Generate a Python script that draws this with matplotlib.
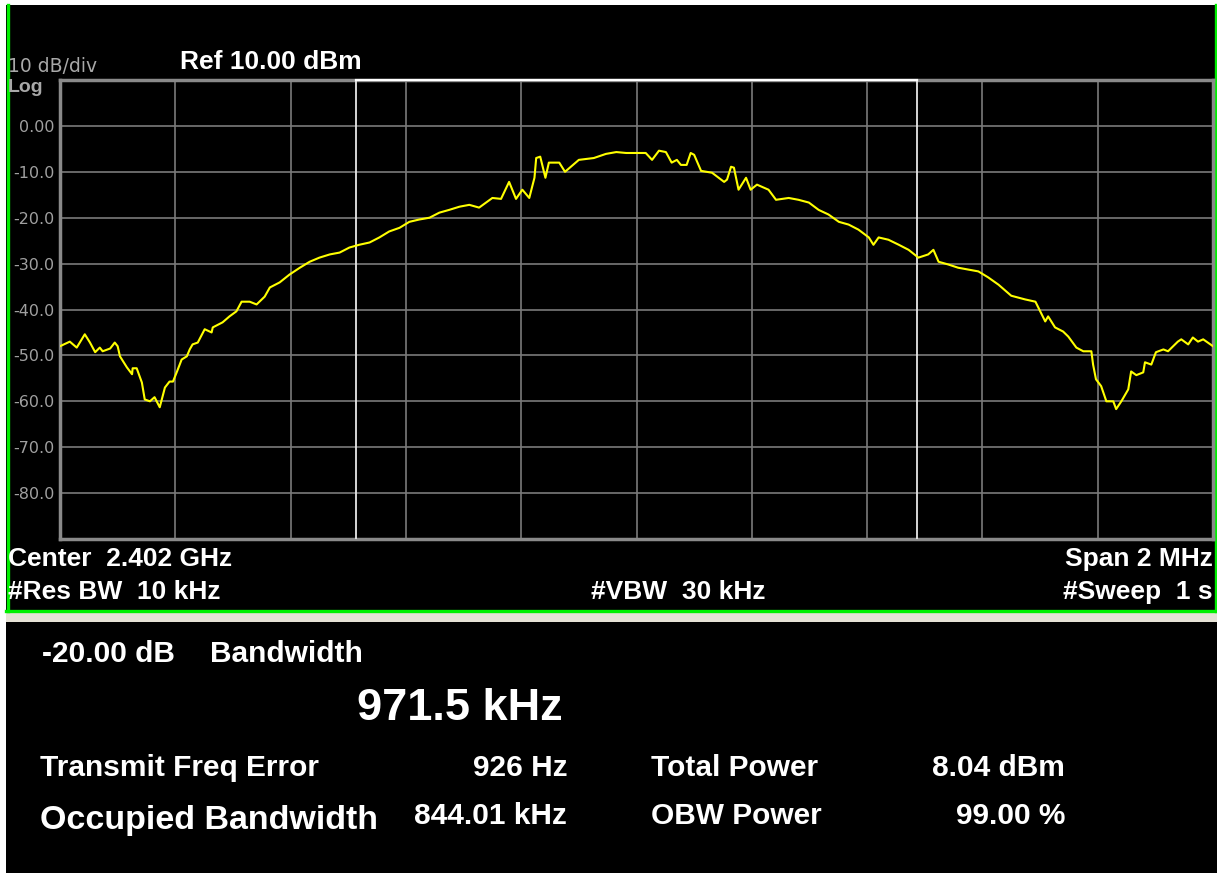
import numpy as np
import matplotlib.pyplot as plt
from matplotlib.patches import Rectangle
from matplotlib.lines import Line2D

plt.rcParams['font.family'] = ['Liberation Sans', 'DejaVu Sans']

# sweep: offset from center (kHz) and level (dBm)
freq_khz = [-1000, -983, -971, -957, -948, -939, -931, -926, -913, -905, -900, -896,
            -884, -875, -874, -867, -858, -853, -844, -836, -827, -818, -810, -804,
            -797, -789, -780, -775, -770, -761, -749, -737, -735, -718, -706, -694,
            -685, -671, -659, -645, -636, -619, -602, -584, -567, -550, -532, -515,
            -498, -481, -463, -446, -429, -411, -394, -377, -359, -342, -325, -307,
            -290, -273, -250, -235, -221, -209, -198, -186, -177, -174, -167, -158,
            -152, -134, -124, -100, -74, -53, -35, -18, 16, 27, 39, 51,
            61, 70, 77, 87, 94, 100, 112, 131, 152, 157, 164, 169,
            177, 190, 198, 209, 229, 242, 264, 281, 299, 316, 333, 351,
            368, 385, 403, 411, 420, 437, 455, 472, 489, 506, 515, 524,
            541, 558, 576, 593, 610, 628, 650, 674, 692, 709, 714, 726,
            740, 749, 763, 775, 789, 792, 797, 806, 815, 827, 832, 841,
            853, 858, 867, 879, 882, 893, 901, 914, 922, 939, 945, 957,
            965, 974, 983, 991, 1000]
level_dbm = [-48.0, -47.0, -48.3, -45.4, -47.2, -49.3, -48.3, -49.1, -48.5, -47.2, -48.0, -50.2,
             -52.6, -54.1, -52.8, -52.8, -55.9, -59.6, -60.0, -59.1, -61.3, -57.0, -55.7, -55.7,
             -53.5, -50.9, -50.2, -48.7, -47.6, -47.2, -44.3, -45.0, -43.9, -42.8, -41.5, -40.4,
             -38.3, -38.3, -38.9, -37.2, -35.2, -34.1, -32.4, -30.9, -29.6, -28.7, -28.0, -27.6,
             -26.5, -25.9, -25.4, -24.3, -23.0, -22.2, -20.9, -20.4, -20.0, -18.9, -18.3, -17.6,
             -17.2, -17.8, -15.7, -15.9, -12.2, -15.9, -13.9, -15.7, -11.3, -7.0, -6.7, -11.3,
             -8.0, -8.0, -10.0, -7.4, -7.0, -6.1, -5.7, -5.9, -5.9, -7.4, -5.4, -5.7,
             -8.0, -7.4, -8.5, -8.5, -5.9, -6.3, -9.8, -10.2, -12.2, -11.7, -8.9, -9.1,
             -13.9, -11.3, -13.9, -12.8, -13.9, -16.1, -15.7, -16.1, -16.7, -18.3, -19.3, -20.9,
             -21.5, -22.6, -24.3, -25.9, -24.3, -24.8, -25.9, -27.0, -28.7, -28.0, -27.0, -29.6,
             -30.2, -30.9, -31.3, -31.7, -33.0, -34.6, -37.0, -37.8, -38.3, -42.6, -41.5, -43.9,
             -44.8, -45.9, -48.3, -49.1, -49.1, -52.0, -55.2, -56.7, -60.0, -60.0, -61.7, -60.0,
             -57.4, -53.5, -54.3, -53.7, -51.5, -52.0, -49.3, -48.7, -49.1, -47.0, -46.5, -47.6,
             -46.1, -47.0, -46.5, -47.2, -48.0]

ref_level = 10.0
db_per_div = 10
span_khz = 2000
bw_20db_khz = 971.5
ytick_vals = [0, -10, -20, -30, -40, -50, -60, -70, -80]
ytick_text = ['0.00', '-10.0', '-20.0', '-30.0', '-40.0', '-50.0', '-60.0', '-70.0', '-80.0']

W, H = 1217, 877
fig = plt.figure(figsize=(W / 100, H / 100), dpi=100, facecolor='white')


def fx(x):
    return x / W


def fy(y):
    return 1 - y / H


# instrument panels (behind the axes)
for y0, y1, col in [(5, 612, 'black'), (622, 873, 'black'), (613, 622, '#e6e2d6')]:
    fig.patches.append(Rectangle((fx(6), fy(y1)), fx(1211), (y1 - y0) / H,
                                 transform=fig.transFigure, facecolor=col,
                                 edgecolor='none', zorder=-3))
green = '#00f000'
for xs, ys in [([7.5, 7.5], [5, 611]), ([1215.5, 1215.5], [5, 611]), ([6, 1217], [610.5, 610.5])]:
    fig.lines.append(Line2D([fx(v) for v in xs], [fy(v) for v in ys], transform=fig.transFigure,
                            color=green, lw=2.4, zorder=-2))

ax = fig.add_axes([fx(60), fy(539), fx(1213 - 60), (539 - 80) / H])
ax.set_zorder(1)
ax.set_facecolor('black')
ax.set_xlim(-span_khz / 2, span_khz / 2)
ax.set_ylim(ref_level - 10 * db_per_div, ref_level)
ax.set_xticks(np.linspace(-span_khz / 2, span_khz / 2, 11))
ax.set_yticks(ytick_vals)
ax.set_yticklabels(ytick_text, family='DejaVu Sans')
ax.tick_params(axis='x', length=0, labelbottom=False)
ax.tick_params(axis='y', length=0, pad=4, labelsize=11.5, labelcolor='#a0a0a0')
ax.grid(True, color='#7a7a7a', lw=1.2)
for s in ax.spines.values():
    s.set_color('#8a8a8a')
    s.set_linewidth(2.5)

# -20 dB bandwidth markers
for m in (-bw_20db_khz / 2, bw_20db_khz / 2):
    ax.axvline(m, color='#e8e8e8', lw=1.3, zorder=3)
ax.plot([-bw_20db_khz / 2, bw_20db_khz / 2], [ref_level, ref_level], color='white', lw=1.6,
        clip_on=False, zorder=5)

ax.plot(freq_khz, level_dbm, color='#ffff00', lw=1.5, zorder=4)

gray = '#a8a8a8'
fig.text(fx(8), fy(66), '10 dB/div', color=gray, fontsize=13.5, family='DejaVu Sans', va='center')
fig.text(fx(8), fy(87), 'Log', color=gray, fontsize=14, fontweight='bold', va='center')
fig.text(fx(180), fy(62), 'Ref 10.00 dBm', color='white', fontsize=19, fontweight='bold', va='center')

big = dict(color='white', fontsize=19, fontweight='bold', va='center')
fig.text(fx(8), fy(559), 'Center  2.402 GHz', **big)
fig.text(fx(8), fy(592), '#Res BW  10 kHz', **big)
fig.text(fx(678), fy(592), '#VBW  30 kHz', ha='center', **big)
fig.text(fx(1213), fy(559), 'Span 2 MHz', ha='right', **big)
fig.text(fx(1213), fy(592), '#Sweep  1 s', ha='right', **big)

# measurement summary
res = dict(color='white', fontsize=21.5, fontweight='bold', va='center')
fig.text(fx(42), fy(654), '-20.00 dB', **res)
fig.text(fx(210), fy(654), 'Bandwidth', **res)
fig.text(fx(357), fy(708), '971.5 kHz', color='white', fontsize=32.5, fontweight='bold', va='center')
fig.text(fx(40), fy(768), 'Transmit Freq Error', **res)
fig.text(fx(568), fy(768), '926 Hz', ha='right', **res)
fig.text(fx(651), fy(768), 'Total Power', **res)
fig.text(fx(1065), fy(768), '8.04 dBm', ha='right', **res)
fig.text(fx(40), fy(821), 'Occupied Bandwidth', color='white', fontsize=24.5, fontweight='bold', va='center')
fig.text(fx(567), fy(816), '844.01 kHz', ha='right', **res)
fig.text(fx(651), fy(816), 'OBW Power', **res)
fig.text(fx(1065), fy(816), '99.00 %', ha='right', **res)

fig.savefig('out.png', dpi=100, facecolor='white')
